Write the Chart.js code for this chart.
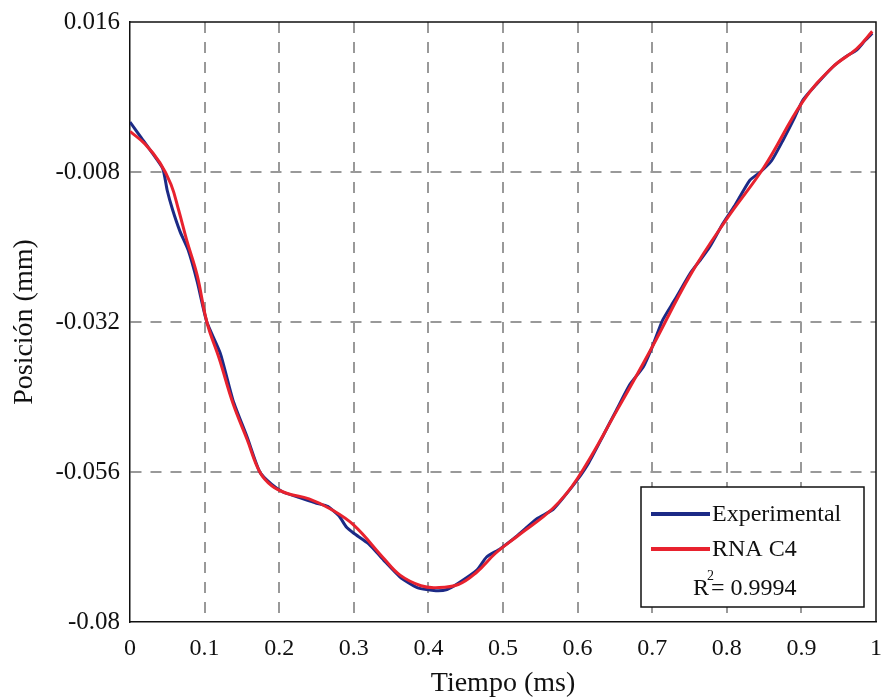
<!DOCTYPE html>
<html>
<head>
<meta charset="utf-8">
<script src="https://cdn.jsdelivr.net/npm/chart.js@4.4.0/dist/chart.umd.min.js"></script>
<style>
  html, body { margin: 0; padding: 0; background: #fff; }
  #wrap { width: 883px; height: 700px; }
</style>
</head>
<body>
<div id="wrap"><canvas id="myChart" width="883" height="700"></canvas></div>
<script>
// tick values / labels
const xTicks = [0, 0.1, 0.2, 0.3, 0.4, 0.5, 0.6, 0.7, 0.8, 0.9, 1];
const xTickLabels = ['0', '0.1', '0.2', '0.3', '0.4', '0.5', '0.6', '0.7', '0.8', '0.9', '1'];
const yTicks = [0.016, -0.008, -0.032, -0.056, -0.08];
const yTickLabels = ['0.016', '-0.008', '-0.032', '-0.056', '-0.08'];

// Experimental (blue)
const expX = [0, 0.015, 0.03, 0.044, 0.05, 0.057, 0.067, 0.078, 0.09, 0.103, 0.121, 0.138, 0.157, 0.174,
  0.19, 0.205, 0.225, 0.25, 0.265, 0.28, 0.29, 0.3, 0.32, 0.34, 0.362, 0.385, 0.41, 0.425, 0.44, 0.465,
  0.478, 0.496, 0.52, 0.545, 0.567, 0.585, 0.6, 0.615, 0.635, 0.652, 0.67, 0.688, 0.7, 0.714, 0.73,
  0.751, 0.765, 0.777, 0.795, 0.81, 0.831, 0.845, 0.86, 0.875, 0.89, 0.902, 0.92, 0.942, 0.96, 0.974,
  0.985, 0.995];
const expY = [0.0000, -0.0025, -0.0050, -0.0075, -0.0110, -0.0140, -0.0175, -0.0205, -0.0255, -0.0320,
  -0.0370, -0.0445, -0.0504, -0.0560, -0.0580, -0.0592, -0.0600, -0.0610, -0.0615, -0.0630, -0.0648,
  -0.0658, -0.0675, -0.0701, -0.0728, -0.0745, -0.0750, -0.0748, -0.0738, -0.0717, -0.0696, -0.0683,
  -0.0661, -0.0635, -0.0620, -0.0595, -0.0572, -0.0545, -0.0500, -0.0461, -0.0420, -0.0392, -0.0360,
  -0.0317, -0.0285, -0.0242, -0.0220, -0.0200, -0.0162, -0.0135, -0.0093, -0.0080, -0.0062, -0.0030,
  0.0005, 0.0035, 0.0060, 0.0088, 0.0105, 0.0115, 0.0130, 0.0142];

// RNA C4 (red)
const rnaX = [0, 0.02, 0.04, 0.055, 0.065, 0.076, 0.09, 0.103, 0.12, 0.138, 0.157, 0.174, 0.19, 0.21,
  0.24, 0.27, 0.3, 0.34, 0.362, 0.39, 0.41, 0.44, 0.465, 0.49, 0.52, 0.567, 0.6, 0.652, 0.7, 0.751,
  0.8, 0.85, 0.902, 0.942, 0.974, 0.995];
const rnaY = [-0.0015, -0.0035, -0.0065, -0.0100, -0.0140, -0.0189, -0.0245, -0.0320, -0.0380, -0.0450,
  -0.0508, -0.0560, -0.0582, -0.0594, -0.0603, -0.0620, -0.0645, -0.0698, -0.0725, -0.0742, -0.0745,
  -0.0740, -0.0720, -0.0690, -0.0662, -0.0618, -0.0570, -0.0463, -0.0360, -0.0245, -0.0155, -0.0072,
  0.0033, 0.0088, 0.0117, 0.0145];

const rSquared = '0.9994';

const toPoints = (xs, ys) => xs.map((x, i) => ({ x: x, y: ys[i] }));

const font = 'Liberation Serif';

const data = {
  datasets: [
    {
      label: 'Experimental',
      data: toPoints(expX, expY),
      borderColor: '#1c2a86',
      backgroundColor: '#1c2a86',
      borderWidth: 3,
      pointRadius: 0,
      tension: 0.2,
      order: 1,
    },
    {
      label: 'RNA C4',
      data: toPoints(rnaX, rnaY),
      borderColor: '#e8222e',
      backgroundColor: '#e8222e',
      borderWidth: 3,
      pointRadius: 0,
      tension: 0.4,
      order: 0,
    },
  ],
};

// frame on top/right + legend box inside the plot, bottom right
const legendBox = {
  id: 'legend_box',
  afterDatasetsDraw: (chart) => {
    const ctx = chart.ctx;
    const a = chart.chartArea;
    ctx.save();
    ctx.strokeStyle = '#111';
    ctx.lineWidth = 1.5;
    ctx.beginPath();
    ctx.moveTo(a.left, a.top);
    ctx.lineTo(a.right, a.top);
    ctx.lineTo(a.right, a.bottom);
    ctx.stroke();

    const w = 223, h = 120;
    const x0 = a.right - 235, y0 = a.bottom - 135;
    ctx.fillStyle = '#fff';
    ctx.fillRect(x0, y0, w, h);
    ctx.strokeRect(x0, y0, w, h);
    ctx.font = '24px "' + font + '"';
    ctx.textBaseline = 'middle';
    chart.data.datasets.forEach((ds, i) => {
      const ly = y0 + 27 + i * 35;
      ctx.strokeStyle = ds.borderColor;
      ctx.lineWidth = 4;
      ctx.beginPath();
      ctx.moveTo(x0 + 10, ly);
      ctx.lineTo(x0 + 69, ly);
      ctx.stroke();
      ctx.fillStyle = '#111';
      ctx.textAlign = 'left';
      ctx.fillText(ds.label, x0 + 71, ly + 1);
    });
    const ry = y0 + 102;
    ctx.textAlign = 'left';
    const rx = x0 + 52;
    ctx.fillText('R', rx, ry);
    const rw = ctx.measureText('R').width;
    ctx.font = '14px "' + font + '"';
    ctx.fillText('2', rx + rw - 2, ry - 13);
    ctx.font = '24px "' + font + '"';
    ctx.fillText('= ' + rSquared, rx + rw + 2, ry);
    ctx.restore();
  },
};

const config = {
  type: 'line',
  data: data,
  plugins: [legendBox],
  options: {
    responsive: false,
    animation: false,
    layout: { padding: { top: 22, right: 7, left: 0, bottom: 0 } },
    plugins: {
      legend: { display: false },
      tooltip: { enabled: false },
    },
    scales: {
      x: {
        type: 'linear',
        min: 0,
        max: 1,
        afterBuildTicks: (scale) => { scale.ticks = xTicks.map((v) => ({ value: v })); },
        afterFit: (scale) => {
          scale.height = 78;
          scale.paddingLeft = 0;
          scale.paddingRight = 0;
        },
        title: {
          display: true,
          text: 'Tiempo (ms)',
          color: '#111',
          font: { family: font, size: 28 },
          padding: { top: 0, bottom: 0 },
        },
        grid: {
          color: (c) => (c.tick.value === 0 || c.tick.value === 1 ? 'rgba(0,0,0,0)' : '#999'),
          lineWidth: 2,
          drawTicks: false,
        },
        border: { display: true, color: '#111', width: 1.5, dash: [11, 9] },
        ticks: {
          color: '#111',
          font: { family: font, size: 24 },
          padding: 12,
          maxRotation: 0,
          callback: (v, i) => xTickLabels[i],
        },
      },
      y: {
        type: 'linear',
        min: -0.08,
        max: 0.016,
        afterBuildTicks: (scale) => { scale.ticks = yTicks.map((v) => ({ value: v })); },
        afterFit: (scale) => {
          scale.width = 130;
          scale.paddingTop = 0;
          scale.paddingBottom = 0;
        },
        title: {
          display: true,
          text: 'Posición (mm)',
          color: '#111',
          font: { family: font, size: 28 },
          padding: { top: 8, bottom: 0 },
        },
        grid: {
          color: (c) => (c.tick.value === 0.016 || c.tick.value === -0.08 ? 'rgba(0,0,0,0)' : '#999'),
          lineWidth: 2,
          drawTicks: false,
        },
        border: { display: true, color: '#111', width: 1.5, dash: [11, 9] },
        ticks: {
          color: '#111',
          font: { family: font, size: 25 },
          padding: 10,
          callback: (v, i) => yTickLabels[i],
        },
      },
    },
  },
};

const myChart = new Chart(document.getElementById('myChart'), config);
</script>
</body>
</html>
